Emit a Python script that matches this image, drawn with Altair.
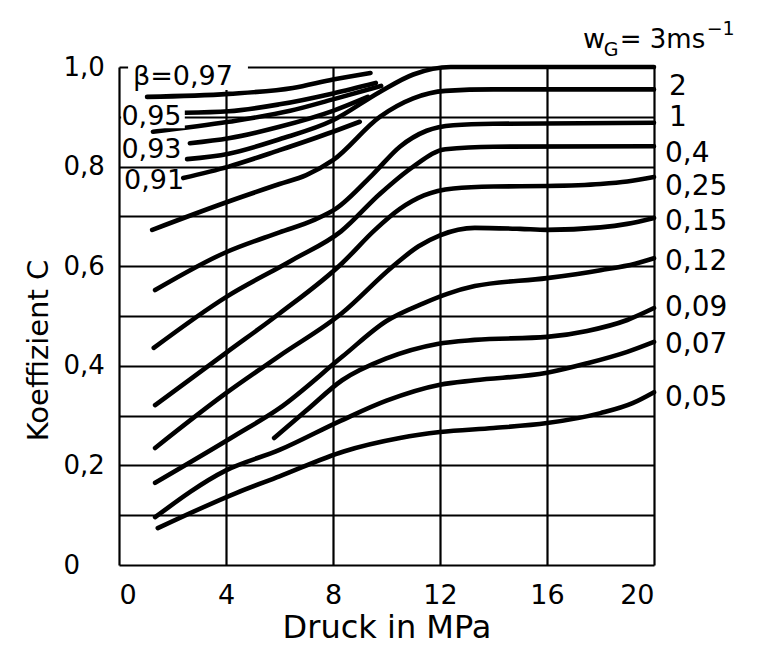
import altair as alt
import pandas as pd

# ---------------- data ----------------
x_ticks = [0, 4, 8, 12, 16, 20]
y_grid = [0, 0.1, 0.2, 0.3, 0.4, 0.5, 0.6, 0.7, 0.8, 0.9, 1.0]

# w_G curves
x_w3 = [2.54, 4.1, 6.0, 8.0, 9.75, 11.0, 12.4, 14.0, 20.0]
y_w3 = [0.815, 0.826, 0.855, 0.893, 0.950, 0.985, 1.0, 1.0, 1.0]
x_w2 = [1.24, 4.15, 6.0, 7.0, 8.0, 9.75, 11.0, 12.2, 14.0, 20.0]
y_w2 = [0.673, 0.731, 0.765, 0.783, 0.813, 0.900, 0.937, 0.952, 0.955, 0.955]
x_w1 = [1.35, 4.0, 6.0, 7.3, 8.1, 9.5, 10.5, 11.5, 12.5, 14.0, 20.0]
y_w1 = [0.552, 0.628, 0.668, 0.693, 0.715, 0.785, 0.840, 0.872, 0.883, 0.886, 0.888]
x_w04 = [1.3, 4.0, 6.47, 8.3, 9.75, 11.0, 12.2, 14.0, 20.0]
y_w04 = [0.436, 0.538, 0.612, 0.670, 0.745, 0.800, 0.835, 0.840, 0.841]
x_w025 = [1.35, 4.0, 6.0, 8.34, 9.57, 10.5, 11.4, 12.5, 14.0, 16.0, 18.0, 19.0, 20.0]
y_w025 = [0.321, 0.426, 0.505, 0.606, 0.673, 0.715, 0.742, 0.756, 0.760, 0.761, 0.765, 0.770, 0.779]
x_w015 = [1.35, 4.0, 6.0, 8.34, 10.2, 11.2, 12.0, 13.3, 15.0, 16.0, 18.0, 19.0, 20.0]
y_w015 = [0.235, 0.345, 0.420, 0.506, 0.598, 0.640, 0.662, 0.677, 0.675, 0.673, 0.678, 0.685, 0.697]
x_w012 = [1.35, 4.34, 6.0, 8.34, 10.0, 11.4, 12.3, 13.3, 16.0, 18.0, 19.3, 20.0]
y_w012 = [0.165, 0.260, 0.315, 0.418, 0.490, 0.526, 0.545, 0.560, 0.576, 0.592, 0.605, 0.616]
x_w009 = [5.8, 7.0, 8.34, 10.0, 11.9, 13.3, 16.0, 17.5, 19.0, 20.0]
y_w009 = [0.255, 0.310, 0.371, 0.415, 0.444, 0.452, 0.458, 0.470, 0.492, 0.516]
x_w007 = [1.35, 4.0, 6.0, 8.3, 10.0, 12.0, 13.3, 16.0, 17.5, 19.0, 20.0]
y_w007 = [0.096, 0.190, 0.231, 0.290, 0.330, 0.362, 0.371, 0.386, 0.405, 0.428, 0.448]
x_w005 = [1.45, 4.4, 6.0, 8.4, 10.5, 12.0, 14.0, 16.0, 18.0, 19.2, 20.0]
y_w005 = [0.074, 0.145, 0.178, 0.228, 0.255, 0.267, 0.275, 0.285, 0.305, 0.325, 0.347]

# beta lines (upper left)
x_b97 = [1.05, 4.1, 6.5, 8.0, 9.4]
y_b97 = [0.940, 0.946, 0.958, 0.975, 0.988]
x_b95 = [2.45, 4.1, 6.0, 8.0, 9.6]
y_b95 = [0.908, 0.911, 0.925, 0.947, 0.968]
x_b95b = [1.27, 4.1, 6.4, 8.0, 9.8]
y_b95b = [0.870, 0.890, 0.912, 0.935, 0.962]
x_b93 = [2.65, 4.1, 6.0, 8.0, 9.3]
y_b93 = [0.847, 0.857, 0.880, 0.912, 0.940]
x_b91 = [2.4, 4.1, 6.0, 8.0, 9.0]
y_b91 = [0.777, 0.800, 0.833, 0.870, 0.890]

# curve labels at the right
r_text = ["2", "1", "0,4", "0,25", "0,15", "0,12", "0,09", "0,07", "0,05"]
r_x = [20.56, 20.56, 20.41, 20.41, 20.41, 20.41, 20.41, 20.41, 20.41]
r_y = [0.960, 0.897, 0.826, 0.759, 0.689, 0.608, 0.516, 0.442, 0.335]

# beta labels at the left
l_text = ["\u03b2=0,97", "0,95", "0,93", "0,91"]
l_x = [0.52, 0.09, 0.09, 0.19]
l_y = [0.980, 0.900, 0.833, 0.771]

# white boxes behind labels that interrupt grid / frame
box_x = [0.34, 0.08, 0.08]
box_x2 = [4.82, 2.46, 2.45]
box_y = [0.954, 0.877, 0.810]
box_y2 = [1.012, 0.924, 0.857]

# header  w_G = 3 ms^-1
h_text = ["w", "G", "= 3ms", "\u22121"]
h_x = [17.35, 18.12, 18.72, 21.97]
h_y = [1.038, 1.022, 1.038, 1.064]
h_size = [27, 19, 26, 19]

FONT = "DejaVu Sans"

series = [
    ("w3", x_w3, y_w3), ("w2", x_w2, y_w2), ("w1", x_w1, y_w1),
    ("w04", x_w04, y_w04), ("w025", x_w025, y_w025), ("w015", x_w015, y_w015),
    ("w012", x_w012, y_w012), ("w009", x_w009, y_w009), ("w007", x_w007, y_w007),
    ("w005", x_w005, y_w005), ("b97", x_b97, y_b97), ("b95", x_b95, y_b95),
    ("b95b", x_b95b, y_b95b), ("b93", x_b93, y_b93), ("b91", x_b91, y_b91),
]
rows = []
for name, xs, ys in series:
    for i, (a, b) in enumerate(zip(xs, ys)):
        rows.append({"curve": name, "x": a, "y": b, "o": i})
df = pd.DataFrame(rows)

xscale = alt.Scale(domain=[0, 20], nice=False, zero=False)
yscale = alt.Scale(domain=[0, 1], nice=False, zero=False)

label_expr = ("datum.value == 0 ? '0' : (round(datum.value*10) % 2 == 0 ? "
              "replace(format(datum.value, '.1f'), '.', ',') : '')")

base_x = alt.X("x:Q", scale=xscale,
               axis=alt.Axis(values=x_ticks, title="Druck in MPa", grid=True,
                             gridColor="black", gridWidth=2.2, gridOpacity=1,
                             ticks=False, domain=False, labelFont=FONT,
                             labelFontSize=27, labelColor="black",
                             labelPadding=17, titleFont=FONT, titleFontSize=32,
                             titleFontWeight="normal", titleColor="black",
                             titlePadding=4))
base_y = alt.Y("y:Q", scale=yscale,
               axis=alt.Axis(values=y_grid, labelExpr=label_expr,
                             title="Koeffizient C", grid=True, gridColor="black",
                             gridWidth=2.2, gridOpacity=1, ticks=False,
                             domain=False, labelFont=FONT, labelFontSize=26,
                             labelColor="black", labelAlign="left",
                             labelPadding=56, titleFont=FONT, titleFontSize=29,
                             titleFontWeight="normal", titleColor="black",
                             titlePadding=10, titleY=283))

lines = alt.Chart(df).mark_line(color="black", strokeWidth=4.6,
                                interpolate="monotone", strokeCap="round").encode(
    x=base_x, y=base_y, detail="curve:N", order="o:Q")

boxes_df = pd.DataFrame({"x": box_x, "x2": box_x2, "y": box_y, "y2": box_y2})
boxes = alt.Chart(boxes_df).mark_rect(color="white").encode(
    x=alt.X("x:Q", scale=xscale), x2="x2:Q",
    y=alt.Y("y:Q", scale=yscale), y2="y2:Q")

r_df = pd.DataFrame({"t": r_text, "x": r_x, "y": r_y})
rlabels = alt.Chart(r_df).mark_text(font=FONT, fontSize=28, align="left",
                                    baseline="middle", color="black").encode(
    x=alt.X("x:Q", scale=xscale), y=alt.Y("y:Q", scale=yscale), text="t:N")

l_df = pd.DataFrame({"t": l_text, "x": l_x, "y": l_y})
llabels = alt.Chart(l_df).mark_text(font=FONT, fontSize=27, align="left",
                                    baseline="middle", color="black").encode(
    x=alt.X("x:Q", scale=xscale), y=alt.Y("y:Q", scale=yscale), text="t:N")

h_df = pd.DataFrame({"t": h_text, "x": h_x, "y": h_y, "s": h_size})
header = alt.Chart(h_df).mark_text(font=FONT, align="left",
                                   baseline="alphabetic", color="black").encode(
    x=alt.X("x:Q", scale=xscale), y=alt.Y("y:Q", scale=yscale), text="t:N",
    size=alt.Size("s:Q", scale=None, legend=None))

chart = alt.layer(lines, boxes, rlabels, llabels, header).properties(
    width=535, height=498,
    autosize=alt.AutoSizeParams(type="none"),
    padding={"left": 111, "top": 59, "right": 95, "bottom": 80},
    background="white",
).configure_view(strokeWidth=0)

chart.save("out.html", embed_options={"renderer": "svg", "actions": False})
